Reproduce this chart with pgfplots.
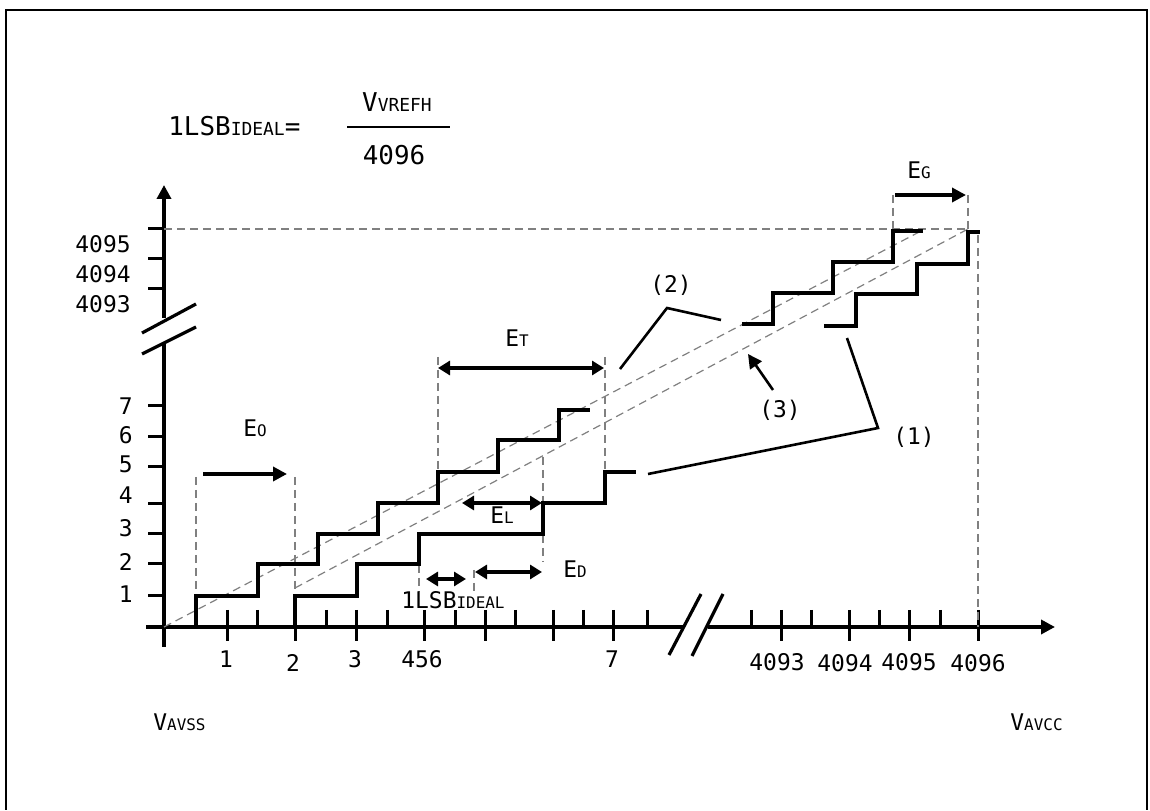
\documentclass[border=0pt]{standalone}
\usepackage{fontspec}
\setmainfont{DejaVu Sans}
\newfontfamily\mono{DejaVu Sans Mono}
\usepackage{pgfplots}
\pgfplotsset{compat=1.18}
\usetikzlibrary{arrows.meta}

% small capitals used as subscripts (IDEAL, AVSS ...)
\newcommand{\sm}[1]{{\fontsize{8}{9}\selectfont #1}}
\newcommand{\smb}[1]{{\fontsize{9}{10}\selectfont #1}}

\tikzset{
    solid line/.style={black, line width=1.75bp, line join=miter, line cap=butt},
    guide/.style={gray, line width=0.6bp, dash pattern=on 4bp off 2.5bp},
    leader/.style={black, line width=1.3bp},
    tip/.style={-{Triangle[length=7bp,width=7bp]}},
    tips/.style={{Triangle[length=6bp,width=7bp]}-{Triangle[length=6bp,width=7bp]}},
    lbl/.style={font=\mono\fontsize{11.5}{13}\selectfont, inner sep=0pt},
    big/.style={font=\mono\fontsize{13}{15}\selectfont, inner sep=0pt},
}

\begin{document}
\begin{tikzpicture}
\begin{axis}[
    width=575bp, height=405bp, scale only axis,
    xmin=0, xmax=1150, ymin=0, ymax=810, y dir=reverse,
    hide axis, clip=false,
    every axis plot/.append style={mark=none},
]
% page extent
\addplot[draw=none] coordinates {(0,0) (1150,810)};
% frame
\addplot[black, line width=1bp] coordinates {(6,810) (6,10) (1147,10) (1147,810)};

% axes
\addplot[black, line width=2bp] coordinates {(146,627) (683,627)};
\addplot[black, line width=2bp, tip] coordinates {(708,627) (1055,627)};
\addplot[black, line width=2bp] coordinates {(164,647) (164,342)};
\addplot[black, line width=2bp, tip] coordinates {(164,318) (164,185)};
% axis breaks
\addplot[black, line width=1.6bp] coordinates {(669,655) (701,594)};
\addplot[black, line width=1.6bp] coordinates {(692,656) (723,594)};
\addplot[black, line width=1.6bp] coordinates {(142,333) (196,304)};
\addplot[black, line width=1.6bp] coordinates {(142,354) (196,327)};

% y ticks
\foreach \yy in {229,259,289,406,437,467,504,534,564,596}{
  \edef\tmp{\noexpand\addplot[black, line width=1.5bp] coordinates {(148,\yy) (164,\yy)};}\tmp
}
% x ticks, long and short
\foreach \xx in {227,295,356,424,485,553,613,781,849,909,978}{
  \edef\tmp{\noexpand\addplot[black, line width=1.5bp] coordinates {(\xx,610) (\xx,641)};}\tmp
}
\foreach \xx in {257,326,387,455,515,583,647,751,811,879,940}{
  \edef\tmp{\noexpand\addplot[black, line width=1.5bp] coordinates {(\xx,610) (\xx,627)};}\tmp
}

% dashed guides
\addplot[guide] coordinates {(164,627) (923,230)};
\addplot[guide] coordinates {(295,588) (968,229)};
\addplot[guide] coordinates {(164,229) (968,229)};
\addplot[guide] coordinates {(196,477) (196,596)};
\addplot[guide] coordinates {(295,477) (295,627)};
\addplot[guide] coordinates {(438,357) (438,472)};
\addplot[guide] coordinates {(605,357) (605,472)};
\addplot[guide] coordinates {(543,457) (543,562)};
\addplot[guide] coordinates {(419,565) (419,592)};
\addplot[guide] coordinates {(474,570) (474,592)};
\addplot[guide] coordinates {(893,195) (893,231)};
\addplot[guide] coordinates {(968,195) (968,229)};
\addplot[guide] coordinates {(978,235) (978,627)};

% staircases
\addplot[solid line] coordinates {(196,627) (196,596) (258,596) (258,564) (318,564) (318,534) (378,534) (378,503) (438,503) (438,472) (498,472) (498,440) (559,440) (559,410) (590,410)};
\addplot[solid line] coordinates {(295,627) (295,596) (357,596) (357,564) (419,564) (419,534) (543,534) (543,503) (605,503) (605,472) (636,472)};
\addplot[solid line] coordinates {(742,324) (773,324) (773,293) (833,293) (833,262) (893,262) (893,231) (923,231)};
\addplot[solid line] coordinates {(824,326) (856,326) (856,294) (917,294) (917,264) (968,264) (968,232) (980,232)};

% error arrows
\addplot[black, line width=1.75bp, tip] coordinates {(203,474) (287,474)};
\addplot[black, line width=1.75bp, tips] coordinates {(438,368) (604,368)};
\addplot[black, line width=1.75bp, tips] coordinates {(462,503) (542,503)};
\addplot[black, line width=1.75bp, tips] coordinates {(475,572) (542,572)};
\addplot[black, line width=1.75bp, tips] coordinates {(426,579) (466,579)};
\addplot[black, line width=1.75bp, tip] coordinates {(895,195) (966,195)};
\addplot[black, line width=1.3bp, tip] coordinates {(773,390) (748,354)};

% leaders
\addplot[leader] coordinates {(620,369) (667,308) (721,320)};
\addplot[leader] coordinates {(648,474) (878,428) (847,338)};

% fraction bar
\addplot[black, line width=0.6bp] coordinates {(347,127) (450,127)};

% texts
\node[big, anchor=base west] at (axis cs:168,135) {1LSB\smb{IDEAL}=};
\node[big, anchor=base] at (axis cs:397,112) {V\smb{VREFH}};
\node[big, anchor=base] at (axis cs:394,164) {4096};

\node[lbl, anchor=base east] at (axis cs:131,253) {4095};
\node[lbl, anchor=base east] at (axis cs:131,283) {4094};
\node[lbl, anchor=base east] at (axis cs:131,313) {4093};
\node[lbl, anchor=base east] at (axis cs:133,415) {7};
\node[lbl, anchor=base east] at (axis cs:133,444) {6};
\node[lbl, anchor=base east] at (axis cs:133,473) {5};
\node[lbl, anchor=base east] at (axis cs:133,504) {4};
\node[lbl, anchor=base east] at (axis cs:133,537) {3};
\node[lbl, anchor=base east] at (axis cs:133,571) {2};
\node[lbl, anchor=base east] at (axis cs:133,603) {1};

\node[lbl, anchor=base] at (axis cs:226,668) {1};
\node[lbl, anchor=base] at (axis cs:293,672) {2};
\node[lbl, anchor=base] at (axis cs:355,668) {3};
\node[lbl, anchor=base] at (axis cs:422,668) {456};
\node[lbl, anchor=base] at (axis cs:612,668) {7};
\node[lbl, anchor=base] at (axis cs:777,671) {4093};
\node[lbl, anchor=base] at (axis cs:845,672) {4094};
\node[lbl, anchor=base] at (axis cs:909,671) {4095};
\node[lbl, anchor=base] at (axis cs:978,672) {4096};

\node[lbl, anchor=base west] at (axis cs:243,437) {E\sm{O}};
\node[lbl, anchor=base west] at (axis cs:505,347) {E\sm{T}};
\node[lbl, anchor=base west] at (axis cs:490,524) {E\sm{L}};
\node[lbl, anchor=base west] at (axis cs:563,578) {E\sm{D}};
\node[lbl, anchor=base west] at (axis cs:907,178) {E\sm{G}};
\node[lbl, anchor=base west] at (axis cs:401,609) {1LSB\sm{IDEAL}};

\node[lbl, anchor=base west] at (axis cs:650,293) {(2)};
\node[lbl, anchor=base west] at (axis cs:759,418) {(3)};
\node[lbl, anchor=base west] at (axis cs:893,445) {(1)};

\node[lbl, anchor=base west] at (axis cs:153,731) {V\sm{AVSS}};
\node[lbl, anchor=base east] at (axis cs:1063,731) {V\sm{AVCC}};
\end{axis}
\end{tikzpicture}
\end{document}
